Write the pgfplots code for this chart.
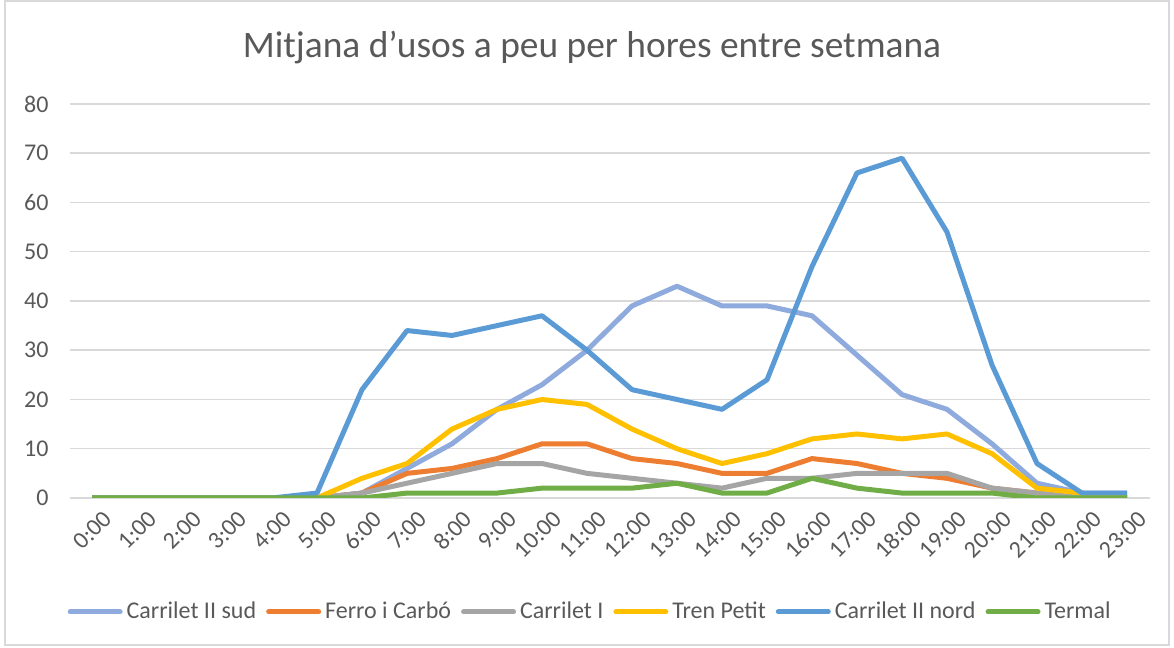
\documentclass[border=0pt]{standalone}
\usepackage{pgfplots}
\pgfplotsset{compat=1.18}
\usepackage{fontspec}
\setmainfont{Carlito}
\definecolor{txt}{HTML}{595959}
\definecolor{grd}{HTML}{D9D9D9}
\definecolor{csud}{HTML}{8FAADC}
\definecolor{cferro}{HTML}{ED7D31}
\definecolor{cgris}{HTML}{A5A5A5}
\definecolor{ctren}{HTML}{FFC000}
\definecolor{cnord}{HTML}{5B9BD5}
\definecolor{cterm}{HTML}{70AD47}
\begin{document}
\begin{tikzpicture}[x=0.5pt,y=0.5pt]
\path (0,0) rectangle (1174,648);
\draw[grd, line width=0.75pt] (5,3) rectangle (1169,647);
\node[txt, font=\fontsize{18.7}{20}\selectfont] at (592,600) {Mitjana d’usos a peu per hores entre setmana};
\begin{axis}[
  at={(34.75pt,75pt)}, anchor=south west,
  scale only axis, width=540pt, height=197pt,
  xmin=-0.5, xmax=23.5, ymin=0, ymax=80,
  ytick={0,10,...,80},
  xtick={0,...,23},
  xticklabels={0:00,1:00,2:00,3:00,4:00,5:00,6:00,7:00,8:00,9:00,10:00,11:00,12:00,13:00,14:00,15:00,16:00,17:00,18:00,19:00,20:00,21:00,22:00,23:00},
  axis line style={draw=none},
  major tick length=0pt,
  ymajorgrids, grid style={grd, line width=0.75pt},
  tick label style={txt, font=\fontsize{12}{14}\selectfont},
  /pgf/number format/assume math mode=true,
  yticklabel style={anchor=east, xshift=-7pt},
  xticklabel style={rotate=45, anchor=north east, xshift=3pt, yshift=-4pt},
  legend style={at={(0.483,-0.289)}, anchor=center, draw=none, fill=none,
    font=\fontsize{12}{14}\selectfont, text=txt, legend columns=-1,
    /tikz/every even column/.append style={column sep=3pt}},
  legend image code/.code={\draw[#1, line width=2.5pt, line cap=round] (0pt,0pt) -- (25pt,0pt);},
  every axis plot/.append style={line width=2.5pt, line join=round, mark=none},
]
\addplot[csud] coordinates {(0,0)(1,0)(2,0)(3,0)(4,0)(5,0)(6,1)(7,6)(8,11)(9,18)(10,23)(11,30)(12,39)(13,43)(14,39)(15,39)(16,37)(17,29)(18,21)(19,18)(20,11)(21,3)(22,1)(23,1)};
\addlegendentry{Carrilet II sud}
\addplot[cferro] coordinates {(0,0)(1,0)(2,0)(3,0)(4,0)(5,0)(6,1)(7,5)(8,6)(9,8)(10,11)(11,11)(12,8)(13,7)(14,5)(15,5)(16,8)(17,7)(18,5)(19,4)(20,2)(21,1)(22,0)(23,0)};
\addlegendentry{Ferro i Carbó}
\addplot[cgris] coordinates {(0,0)(1,0)(2,0)(3,0)(4,0)(5,0)(6,1)(7,3)(8,5)(9,7)(10,7)(11,5)(12,4)(13,3)(14,2)(15,4)(16,4)(17,5)(18,5)(19,5)(20,2)(21,1)(22,0)(23,0)};
\addlegendentry{Carrilet I}
\addplot[ctren] coordinates {(0,0)(1,0)(2,0)(3,0)(4,0)(5,0)(6,4)(7,7)(8,14)(9,18)(10,20)(11,19)(12,14)(13,10)(14,7)(15,9)(16,12)(17,13)(18,12)(19,13)(20,9)(21,2)(22,1)(23,0)};
\addlegendentry{Tren Petit}
\addplot[cnord] coordinates {(0,0)(1,0)(2,0)(3,0)(4,0)(5,1)(6,22)(7,34)(8,33)(9,35)(10,37)(11,30)(12,22)(13,20)(14,18)(15,24)(16,47)(17,66)(18,69)(19,54)(20,27)(21,7)(22,1)(23,1)};
\addlegendentry{Carrilet II nord}
\addplot[cterm] coordinates {(0,0)(1,0)(2,0)(3,0)(4,0)(5,0)(6,0)(7,1)(8,1)(9,1)(10,2)(11,2)(12,2)(13,3)(14,1)(15,1)(16,4)(17,2)(18,1)(19,1)(20,1)(21,0)(22,0)(23,0)};
\addlegendentry{Termal}
\end{axis}
\end{tikzpicture}
\end{document}
